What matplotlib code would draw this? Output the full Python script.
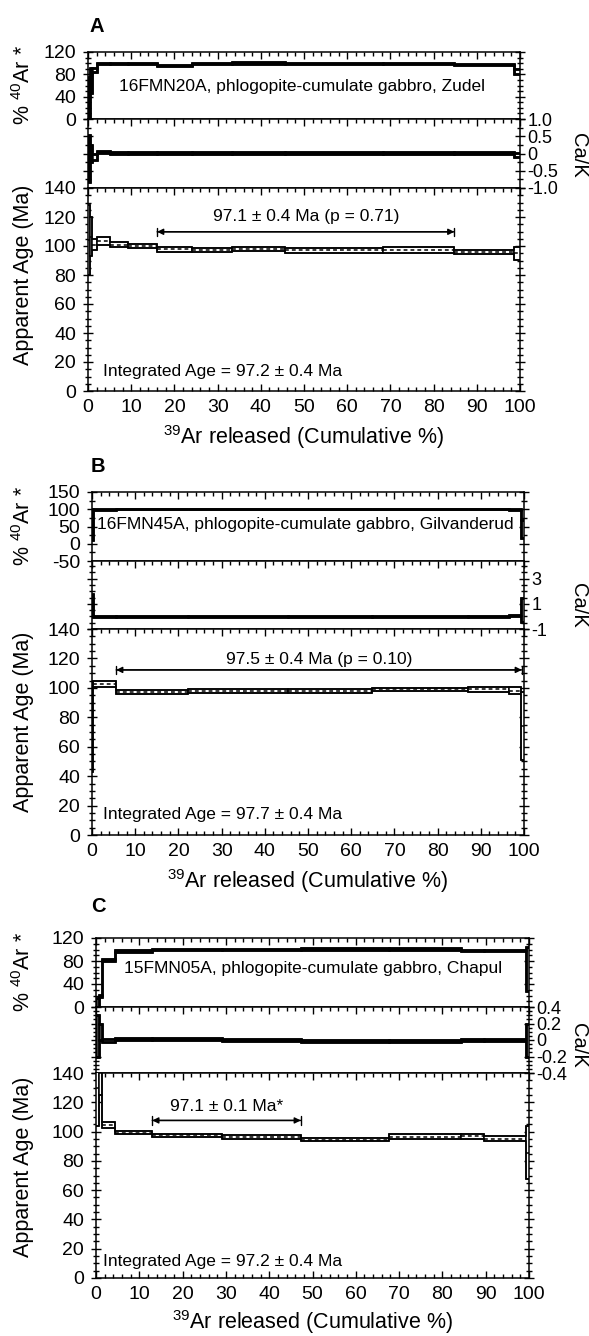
import matplotlib
matplotlib.use("Agg")
import matplotlib.pyplot as plt
from matplotlib.patches import Rectangle
from matplotlib.ticker import MultipleLocator, FixedLocator, FixedFormatter

plt.rcParams['font.family'] = ['Liberation Sans', 'DejaVu Sans']
plt.rcParams['mathtext.fontset'] = 'custom'
plt.rcParams['mathtext.rm'] = 'Liberation Sans'
plt.rcParams['mathtext.it'] = 'Liberation Sans:italic'
plt.rcParams['mathtext.bf'] = 'Liberation Sans:bold'
plt.rcParams['axes.unicode_minus'] = False

# ---------------- data ----------------
# Panel A
bounds_A = [0, 0.5, 1.0, 2.0, 5.0, 9.2, 16.0, 24.0, 33.3, 45.7, 68.3, 84.8, 98.7, 100]
age_A = [104.0, 106.5, 101.0, 103.2, 101.0, 99.8, 97.6, 97.2, 98.2, 96.9, 97.5, 95.9, 94.9]
age_err_A = [24.0, 13.5, 4.0, 2.7, 2.0, 1.4, 1.5, 1.2, 1.4, 1.5, 2.0, 1.4, 4.6]
ar_A = [38, 69, 88, 99, 99, 99, 96.5, 99, 100, 100, 100, 98, 85]
ar_err_A = [38, 22, 3, 1, 1, 1, 1, 1, 2, 1, 1, 1, 5]
ca_A = [-0.15, 0.0, -0.1, 0.04, 0.02, 0.01, 0.01, 0.01, 0.01, 0.01, 0.01, 0.01, -0.05]
ca_err_A = [0.68, 0.25, 0.08, 0.02, 0.02, 0.02, 0.02, 0.02, 0.02, 0.02, 0.02, 0.02, 0.06]
plateau_A = (16.0, 84.8)
label_A = "16FMN20A, phlogopite-cumulate gabbro, Zudel"
plateau_text_A = "97.1 ± 0.4 Ma (p = 0.71)"
integrated_A = "Integrated Age = 97.2 ± 0.4 Ma"

# Panel B
bounds_B = [0, 0.3, 5.5, 22.2, 45.3, 64.8, 87.0, 96.5, 99.4, 100]
age_B = [72, 102.9, 97.2, 97.9, 97.7, 98.9, 99.1, 98.2, 74]
age_err_B = [29, 2.0, 1.4, 1.2, 1.3, 0.8, 1.7, 2.3, 23]
ar_B = [55, 100, 100, 100, 100, 100, 100, 100, 43.5]
ar_err_B = [45, 1.0, 0.3, 0.3, 0.3, 0.3, 0.3, 1.0, 25.5]
ca_B = [0.9, 0.0, 0.0, 0.0, 0.0, 0.0, 0.0, 0.1, 0.5]
ca_err_B = [0.9, 0.05, 0.03, 0.03, 0.03, 0.03, 0.03, 0.05, 0.95]
plateau_B = (5.6, 99.5)
label_B = "16FMN45A, phlogopite-cumulate gabbro, Gilvanderud"
plateau_text_B = "97.5 ± 0.4 Ma (p = 0.10)"
integrated_B = "Integrated Age = 97.7 ± 0.4 Ma"

# Panel C
bounds_C = [0, 0.6, 1.5, 4.3, 13.0, 29.2, 47.3, 67.6, 84.4, 89.7, 99.3, 100]
age_C = [130, 140, 104.5, 99.2, 97.4, 96.2, 94.4, 96.4, 96.7, 95.2, 85.7]
age_err_C = [26, 15, 2.3, 1.1, 1.1, 1.4, 1.0, 1.7, 1.9, 1.7, 18.2]
ar_C = [8, 19, 82, 97.5, 99.4, 100, 101, 101, 99, 99, 66]
ar_err_C = [8, 2, 2, 1, 1, 1, 1, 1, 1, 1, 38]
ca_C = [0.05, 0.1, -0.01, 0.01, 0.01, 0.0, -0.01, -0.01, 0.0, 0.0, 0.0]
ca_err_C = [0.25, 0.1, 0.02, 0.01, 0.01, 0.01, 0.015, 0.015, 0.01, 0.01, 0.2]
plateau_C = (13.0, 47.3)
label_C = "15FMN05A, phlogopite-cumulate gabbro, Chapul"
plateau_text_C = "97.1 ± 0.1 Ma*"
integrated_C = "Integrated Age = 97.2 ± 0.4 Ma"

# axis settings per panel
ar_ticks = {'A': [0, 40, 80, 120], 'B': [-50, 0, 50, 100, 150], 'C': [0, 40, 80, 120]}
ca_ticks = {'A': [-1.0, -0.5, 0, 0.5, 1.0], 'B': [-1, 1, 3], 'C': [-0.4, -0.2, 0, 0.2, 0.4]}
ca_ticklabels = {'A': ['-1.0', '-0.5', '0', '0.5', '1.0'], 'B': ['-1', '1', '3'],
                 'C': ['-0.4', '-0.2', '0', '0.2', '0.4']}
age_ticks = [0, 20, 40, 60, 80, 100, 120, 140]
x_ticks = [0, 10, 20, 30, 40, 50, 60, 70, 80, 90, 100]

# ---------------- layout (pixel geometry) ----------------
W, H = 589, 1336
layout = {
    'A': dict(x0=88, x1=520, ar=(52, 119), ca=(119, 188), age=(188, 391),
              letter=(89, 26), ylab_ar=85, ylab_age=275, calab=155, xlab=437,
              arlim=(0, 120), calim=(-1, 1), armin=10, camin=0.25,
              plat_y=109.8, plat_ty=120.5, int_x=3.5, int_y=13.5,
              lab_x=119, lab_y=87),
    'B': dict(x0=92, x1=524, ar=(492, 561), ca=(561, 629), age=(629, 835),
              letter=(91, 466), ylab_ar=526, ylab_age=722, calab=605, xlab=881,
              arlim=(-50, 150), calim=(-1, 4.4), armin=25, camin=0.5,
              plat_y=112.2, plat_ty=119.6, int_x=2.6, int_y=14.1,
              lab_x=97, lab_y=525),
    'C': dict(x0=96, x1=529, ar=(938, 1007), ca=(1007, 1073), age=(1073, 1278),
              letter=(91, 906), ylab_ar=972, ylab_age=1167, calab=1045, xlab=1322,
              arlim=(0, 120), calim=(-0.4, 0.4), armin=10, camin=0.05,
              plat_y=107.6, plat_ty=117.0, int_x=1.7, int_y=11.1,
              lab_x=124, lab_y=968),
}

panels = {
    'A': (bounds_A, age_A, age_err_A, ar_A, ar_err_A, ca_A, ca_err_A, plateau_A,
          label_A, plateau_text_A, integrated_A),
    'B': (bounds_B, age_B, age_err_B, ar_B, ar_err_B, ca_B, ca_err_B, plateau_B,
          label_B, plateau_text_B, integrated_B),
    'C': (bounds_C, age_C, age_err_C, ar_C, ar_err_C, ca_C, ca_err_C, plateau_C,
          label_C, plateau_text_C, integrated_C),
}

fig = plt.figure(figsize=(W / 100, H / 100), dpi=100)
FS = 12.5
TFS = 14
LFS = 15.5


def make_ax(x0, x1, ytop, ybot):
    return fig.add_axes([x0 / W, 1 - ybot / H, (x1 - x0) / W, (ybot - ytop) / H])


def spectrum(ax, bounds, vals, errs, lw, dashed):
    lo = [v - e for v, e in zip(vals, errs)]
    hi = [v + e for v, e in zip(vals, errs)]
    for i in range(len(vals)):
        ax.add_patch(Rectangle((bounds[i], lo[i]), bounds[i + 1] - bounds[i], hi[i] - lo[i],
                               facecolor='white', edgecolor='black', lw=lw, zorder=3))
        if dashed:
            ax.plot([bounds[i], bounds[i + 1]], [vals[i], vals[i]], color='black',
                    lw=1.1, ls=(0, (2.5, 2.0)), zorder=4)
    ax.stairs(hi, bounds, baseline=None, color='black', lw=lw, zorder=4)
    ax.stairs(lo, bounds, baseline=None, color='black', lw=lw, zorder=4)


def style_ax(ax, bottom_labels=False):
    for s in ax.spines.values():
        s.set_linewidth(1.1)
    ax.set_xlim(0, 100)
    ax.xaxis.set_major_locator(FixedLocator(x_ticks))
    ax.xaxis.set_minor_locator(MultipleLocator(2))
    ax.tick_params(axis='x', which='both', direction='in', top=True, bottom=bottom_labels,
                   labelbottom=bottom_labels, labelsize=TFS, width=1.0, pad=6)
    ax.tick_params(axis='x', which='major', length=5)
    ax.tick_params(axis='x', which='minor', length=3)
    ax.tick_params(axis='y', which='both', direction='inout', left=True, right=True,
                   labelsize=TFS, width=1.0, pad=5)
    ax.tick_params(axis='y', which='major', length=7)
    ax.tick_params(axis='y', which='minor', length=4)


for key, (bounds, age, age_err, ar, ar_err, ca, ca_err, plat, lab, ptext, itext) in panels.items():
    L = layout[key]
    ax_ar = make_ax(L['x0'], L['x1'], *L['ar'])
    ax_ca = make_ax(L['x0'], L['x1'], *L['ca'])
    ax_age = make_ax(L['x0'], L['x1'], *L['age'])

    # %40Ar*
    style_ax(ax_ar)
    ax_ar.set_ylim(*L['arlim'])
    ax_ar.yaxis.set_major_locator(FixedLocator(ar_ticks[key]))
    ax_ar.yaxis.set_minor_locator(MultipleLocator(L['armin']))
    spectrum(ax_ar, bounds, ar, ar_err, 1.8, False)
    ax_ar.text(L['lab_x'] / W, 1 - L['lab_y'] / H, lab, transform=fig.transFigure,
               fontsize=FS, ha='left', va='center', zorder=6)

    # Ca/K
    style_ax(ax_ca)
    ax_ca.set_ylim(*L['calim'])
    ax_ca.yaxis.set_major_locator(FixedLocator(ca_ticks[key]))
    ax_ca.yaxis.set_major_formatter(FixedFormatter(ca_ticklabels[key]))
    ax_ca.yaxis.set_minor_locator(MultipleLocator(L['camin']))
    ax_ca.tick_params(axis='y', labelleft=False, labelright=True, labelsize=13, pad=2)
    spectrum(ax_ca, bounds, ca, ca_err, 1.8, False)

    # Apparent age
    style_ax(ax_age, bottom_labels=True)
    ax_age.set_ylim(0, 140)
    ax_age.yaxis.set_major_locator(FixedLocator(age_ticks))
    ax_age.yaxis.set_minor_locator(MultipleLocator(5))
    spectrum(ax_age, bounds, age, age_err, 1.1, True)

    ax_age.annotate('', xy=(plat[1], L['plat_y']), xytext=(plat[0], L['plat_y']),
                    arrowprops=dict(arrowstyle='<|-|>', lw=1.0, color='black',
                                    shrinkA=0, shrinkB=0, mutation_scale=9))
    ax_age.annotate('', xy=(plat[1], L['plat_y']), xytext=(plat[0], L['plat_y']),
                    arrowprops=dict(arrowstyle='|-|, widthA=0.3, widthB=0.3', lw=1.0,
                                    color='black', shrinkA=0, shrinkB=0))
    ax_age.text((plat[0] + plat[1]) / 2, L['plat_ty'], ptext, fontsize=FS,
                ha='center', va='center')
    ax_age.text(L['int_x'], L['int_y'], itext, fontsize=FS, ha='left', va='center')

    # labels
    fig.text(L['letter'][0] / W, 1 - L['letter'][1] / H, key, fontsize=14.5,
             fontweight='bold', ha='left', va='center')
    fig.text(24 / W, 1 - L['ylab_ar'] / H, r"% $^{40}$Ar *", fontsize=LFS,
             rotation=90, ha='center', va='center')
    fig.text(24 / W, 1 - L['ylab_age'] / H, "Apparent Age (Ma)", fontsize=LFS,
             rotation=90, ha='center', va='center')
    fig.text(579 / W, 1 - L['calab'] / H, "Ca/K", fontsize=14.5,
             rotation=-90, ha='center', va='center')
    fig.text((L['x0'] + L['x1']) / 2 / W, 1 - L['xlab'] / H,
             r"$^{39}$Ar released (Cumulative %)", fontsize=LFS, ha='center', va='center')

fig.savefig("out.png", dpi=100, facecolor='white')
